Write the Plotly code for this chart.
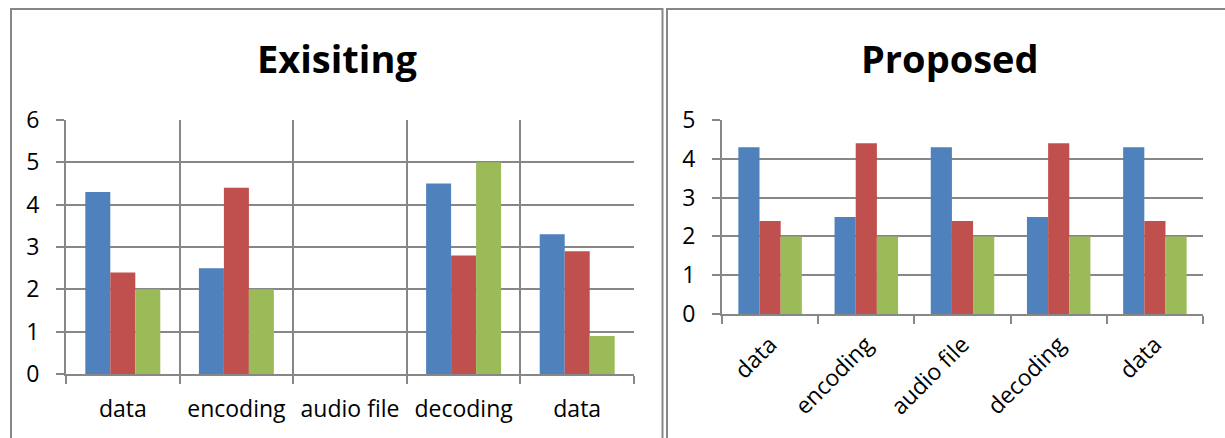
import plotly.graph_objects as go

# ---- data ----
categories = ["data", "encoding", "audio file", "decoding", "data"]
positions = [0, 1, 2, 3, 4]

existing_s1 = [4.3, 2.5, None, 4.5, 3.3]
existing_s2 = [2.4, 4.4, None, 2.8, 2.9]
existing_s3 = [2.0, 2.0, None, 5.0, 0.9]

proposed_s1 = [4.3, 2.5, 4.3, 2.5, 4.3]
proposed_s2 = [2.4, 4.4, 2.4, 4.4, 2.4]
proposed_s3 = [2.0, 2.0, 2.0, 2.0, 2.0]

series_names = ["Series 1", "Series 2", "Series 3"]
colors = ["#4F81BD", "#C0504D", "#9BBB59"]

existing_ticks = [0, 1, 2, 3, 4, 5, 6]
proposed_ticks = [0, 1, 2, 3, 4, 5]

W, H = 1225, 438
FONT = "Open Sans"
GRID = "#878787"

fig = go.Figure()

for name, vals, col in zip(series_names, [existing_s1, existing_s2, existing_s3], colors):
    fig.add_trace(go.Bar(x=positions, y=vals, name=name, marker=dict(color=col, line=dict(width=0)),
                         xaxis="x", yaxis="y", showlegend=False))
for name, vals, col in zip(series_names, [proposed_s1, proposed_s2, proposed_s3], colors):
    fig.add_trace(go.Bar(x=positions, y=vals, name=name, marker=dict(color=col, line=dict(width=0)),
                         xaxis="x2", yaxis="y2", showlegend=False))

def px_x(v):
    return v / W

def px_y(v):
    return 1 - v / H

tickfont = dict(family=FONT, size=23, color="#000000")

common_x = dict(type="category", tickmode="array", tickvals=positions, ticktext=categories,
                tickson="boundaries", ticks="outside", ticklen=8, tickwidth=2, tickcolor=GRID,
                showline=True, linecolor=GRID, linewidth=2, gridcolor=GRID, gridwidth=2,
                tickfont=tickfont, range=[-0.5, 4.5], fixedrange=True, automargin=False,
                zeroline=False)
common_y = dict(ticks="outside", ticklen=8, tickwidth=2, tickcolor=GRID, showline=True,
                linecolor=GRID, linewidth=2, showgrid=True, gridcolor=GRID, gridwidth=2,
                tickfont=tickfont, zeroline=False, ticklabelstandoff=12, fixedrange=True,
                automargin=False)

fig.update_layout(
    template="none",
    width=W, height=H,
    autosize=False,
    margin=dict(l=0, r=0, t=0, b=0, pad=0),
    paper_bgcolor="white", plot_bgcolor="white",
    barmode="group", bargap=0.34, bargroupgap=0,
    showlegend=False,
    xaxis=dict(common_x, domain=[px_x(66), px_x(634)], anchor="y", showgrid=True,
               tickangle=0, ticklabelstandoff=13),
    yaxis=dict(common_y, domain=[px_y(374), px_y(120)], anchor="x",
               range=[0, 6], tickvals=existing_ticks),
    xaxis2=dict(common_x, domain=[px_x(722), px_x(1203)], anchor="y2", showgrid=False,
                tickangle=-45, ticklabelstandoff=6),
    yaxis2=dict(common_y, domain=[px_y(314), px_y(120)], anchor="x2",
                range=[0, 5], tickvals=proposed_ticks),
    font=dict(family=FONT, color="#000000"),
)

# chart borders
fig.add_shape(type="rect", xref="paper", yref="paper",
              x0=px_x(11), x1=px_x(662.5), y0=-0.05, y1=px_y(9),
              line=dict(color=GRID, width=2), layer="below")
fig.add_shape(type="rect", xref="paper", yref="paper",
              x0=px_x(667), x1=1.05, y0=-0.05, y1=px_y(9),
              line=dict(color=GRID, width=2), layer="below")

# titles
fig.add_annotation(text="<b>Exisiting</b>", xref="paper", yref="paper",
                   x=px_x(337), y=px_y(58), xanchor="center", yanchor="middle",
                   showarrow=False, font=dict(family=FONT, size=38, color="#000000"))
fig.add_annotation(text="<b>Proposed</b>", xref="paper", yref="paper",
                   x=px_x(949.5), y=px_y(58), xanchor="center", yanchor="middle",
                   showarrow=False, font=dict(family=FONT, size=38, color="#000000"))

fig.write_html("out.html", config={"displayModeBar": False},
               post_script="document.body.style.margin='0';document.body.style.overflow='hidden';")
